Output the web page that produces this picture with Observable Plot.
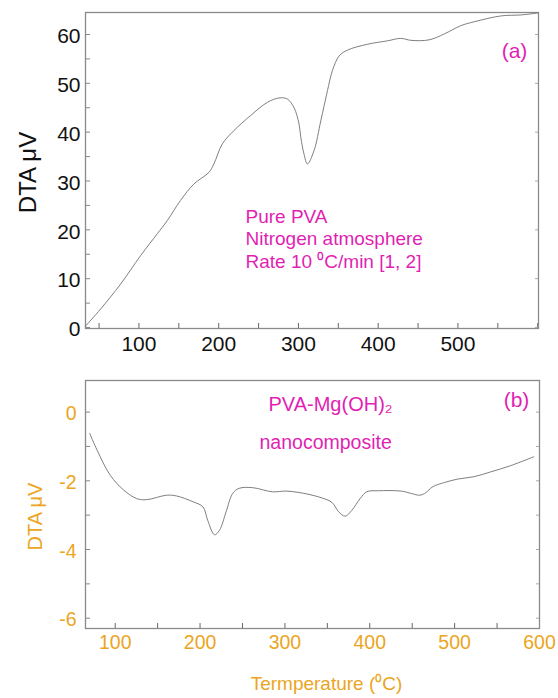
<!DOCTYPE html>
<html><head><meta charset="utf-8">
<script src="https://cdn.jsdelivr.net/npm/d3@7"></script>
<script src="https://cdn.jsdelivr.net/npm/@observablehq/plot@0.6"></script>
<style>
html,body{margin:0;padding:0;background:#fff;}
#chart{width:558px;height:698px;overflow:hidden;}
svg{display:block;}
</style></head><body><div id="chart"></div>
<script>
// Panel (a): Pure PVA
const tempA = [33, 52, 77, 102, 123, 135.6, 152, 169, 188, 194, 204.6, 219, 240, 261, 275.6, 286, 294.5, 300.7, 303, 307, 311.3, 319.5, 328, 336.4, 342.6, 351, 361.5, 386.6, 411.7, 428.3, 441, 463.8, 482.7, 503.6, 520.3, 554, 579, 600];
const dtaA  = [0.3, 3.8, 8.9, 14.7, 19.2, 21.9, 26, 29.4, 31.8, 33.5, 37.6, 40.3, 43.4, 46.1, 47, 46.8, 45, 41.7, 38.9, 35.5, 33.5, 36.2, 42.3, 48.5, 52.6, 55.6, 56.8, 58, 58.7, 59.2, 58.8, 58.9, 60.1, 61.8, 62.6, 63.8, 64, 64.4];
// Panel (b): PVA-Mg(OH)2 nanocomposite
const tempB = [70, 78.7, 94.2, 110, 125.5, 137, 160.5, 172, 191.7, 203.4, 209, 217, 222.9, 230.7, 238.4, 246, 261.9, 285.2, 301, 316.5, 339.9, 355.4, 363.2, 371, 378.8, 388.6, 396.4, 410, 437.3, 449, 458.8, 464.6, 474.4, 488, 503.6, 523, 542.5, 565.9, 593.3];
const dtaB  = [-0.62, -1.11, -1.84, -2.27, -2.52, -2.55, -2.42, -2.44, -2.61, -2.76, -3.15, -3.57, -3.44, -2.9, -2.37, -2.22, -2.2, -2.32, -2.3, -2.34, -2.47, -2.63, -2.9, -3.03, -2.86, -2.52, -2.32, -2.29, -2.3, -2.37, -2.42, -2.37, -2.17, -2.05, -1.95, -1.88, -1.74, -1.56, -1.3];

// Tick labels
const xTicksA = [100, 200, 300, 400, 500];
const xMinorA = [50, 100, 150, 200, 250, 300, 350, 400, 450, 500, 550, 600];
const yTicksA = [0, 10, 20, 30, 40, 50, 60];
const yMinorA = [0, 5, 10, 15, 20, 25, 30, 35, 40, 45, 50, 55, 60];
const xTicksB = [100, 200, 300, 400, 500, 600];
const xMinorB = [100, 150, 200, 250, 300, 350, 400, 450, 500, 550];
const yTicksB = [0, -2, -4, -6];
const yMinorB = [0, -1, -2, -3, -4, -5, -6];

const annA = ["Pure PVA", "Nitrogen atmosphere", "Rate 10 \u2070C/min [1, 2]"];
const annB1 = "PVA-Mg(OH)\u2082";
const annB2 = "nanocomposite";
const yLabel = "DTA \u03bcV";
const xLabelB = "Termperature (\u2070C)";

const font = "'Liberation Sans', Arial, Helvetica, sans-serif";
const magenta = "#e11fb3", orange = "#eba522", frameC = "#8a8a8a", lineC = "#707070";
const W = 558;

const A = {h: 360, mt: 12, mb: 32, ml: 85, mr: 20};
const fwA = W - A.ml - A.mr, fhA = A.h - A.mt - A.mb;
const dataA = tempA.map((t, i) => ({t, v: dtaA[i]}));

const plotA = Plot.plot({
  width: W, height: A.h,
  marginTop: A.mt, marginBottom: A.mb, marginLeft: A.ml, marginRight: A.mr,
  style: {fontFamily: font, fontSize: "21px", background: "#fff", overflow: "visible"},
  x: {domain: [33, 601]},
  y: {domain: [-0.2, 64.5]},
  marks: [
    Plot.tickX(xMinorA, {x: d => d, stroke: "#666", insetTop: fhA - 5}),
    Plot.tickY(yMinorA, {y: d => d, stroke: "#888", insetRight: fwA - 5}),
    Plot.tickY(yTicksA, {y: d => d, stroke: "#aaa", insetLeft: fwA - 3}),
    Plot.frame({stroke: frameC, strokeWidth: 1.3}),
    Plot.axisX({ticks: xTicksA, tickSize: 0, tickPadding: 8, color: "#111", tickFormat: d => String(d), label: null}),
    Plot.axisY({ticks: yTicksA, tickSize: 0, tickPadding: 5, color: "#111", tickFormat: d => String(d), label: null, dy: 2}),
    Plot.line(dataA, {x: "t", y: "v", stroke: lineC, strokeWidth: 0.9, curve: "catmull-rom"}),
    Plot.text([yLabel], {text: d => d, frameAnchor: "left", textAnchor: "middle", rotate: -90, dx: -57, dy: 2, fontSize: 24, fill: "#111"}),
    Plot.text([annA.join("\n")], {text: d => d, frameAnchor: "top-left", textAnchor: "start", lineAnchor: "top", dx: 160, dy: 194, fontSize: 19, lineHeight: 1.2, fill: magenta}),
    Plot.text(["(a)"], {text: d => d, frameAnchor: "top-right", textAnchor: "middle", dx: -24, dy: 31, lineAnchor: "top", fontSize: 21, fill: magenta})
  ]
});

const B = {h: 338, mt: 20, mb: 70, ml: 85, mr: 19};
const fwB = W - B.ml - B.mr, fhB = B.h - B.mt - B.mb;
const dataB = tempB.map((t, i) => ({t, v: dtaB[i]}));

const plotB = Plot.plot({
  width: W, height: B.h,
  marginTop: B.mt, marginBottom: B.mb, marginLeft: B.ml, marginRight: B.mr,
  style: {fontFamily: font, fontSize: "19.5px", background: "#fff", overflow: "visible"},
  x: {domain: [65, 600]},
  y: {domain: [-6.3, 0.92]},
  marks: [
    Plot.tickX(xMinorB, {x: d => d, stroke: "#666", insetTop: fhB - 5}),
    Plot.tickY(yMinorB, {y: d => d, stroke: "#888", insetRight: fwB - 5}),
    Plot.tickY(yMinorB, {y: d => d, stroke: "#aaa", insetLeft: fwB - 3}),
    Plot.frame({stroke: frameC, strokeWidth: 1.3}),
    Plot.axisX({ticks: xTicksB, tickSize: 0, tickPadding: 7, color: orange, tickFormat: d => String(d), label: null}),
    Plot.axisY({ticks: yTicksB, tickSize: 0, tickPadding: 9, color: orange, tickFormat: d => String(d), label: null, dy: 2}),
    Plot.line(dataB, {x: "t", y: "v", stroke: lineC, strokeWidth: 0.9, curve: "catmull-rom"}),
    Plot.text([yLabel], {text: d => d, frameAnchor: "left", textAnchor: "middle", rotate: -90, dx: -50, dy: 12, fontSize: 20, fill: orange}),
    Plot.text([xLabelB], {text: d => d, frameAnchor: "bottom", textAnchor: "middle", dx: 14, dy: 61, fontSize: 19, fill: orange}),
    Plot.text([annB1], {text: d => d, frameAnchor: "top-left", textAnchor: "start", lineAnchor: "top", dx: 183, dy: 16, fontSize: 20, fill: magenta}),
    Plot.text([annB2], {text: d => d, frameAnchor: "top-left", textAnchor: "start", lineAnchor: "top", dx: 174, dy: 55, fontSize: 19.5, fill: magenta}),
    Plot.text(["(b)"], {text: d => d, frameAnchor: "top-right", textAnchor: "middle", dx: -23, dy: 12, lineAnchor: "top", fontSize: 21, fill: magenta})
  ]
});

const chart = document.getElementById("chart");
chart.appendChild(plotA);
chart.appendChild(plotB);
</script></body></html>
